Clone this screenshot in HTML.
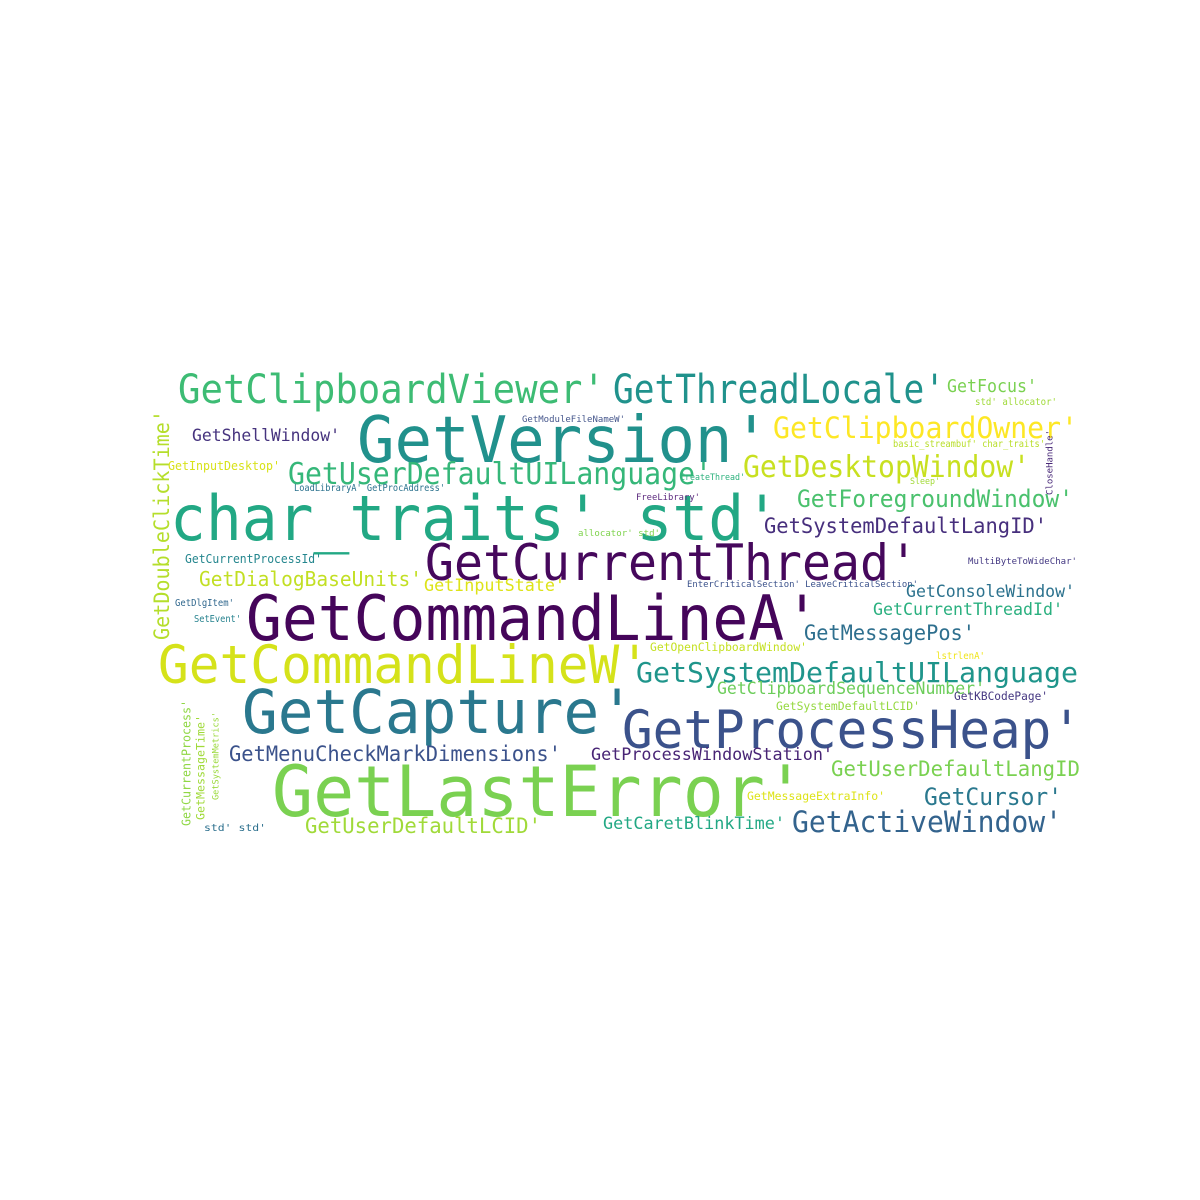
<!DOCTYPE html>
<html><head><meta charset="utf-8"><title>Word cloud</title>
<style>
html,body{margin:0;padding:0;background:#fff;width:1200px;height:1200px;overflow:hidden}
svg text{font-family:"DejaVu Sans Mono","Liberation Mono",monospace}
</style></head>
<body>
<svg id="cloud" width="1200" height="1200" viewBox="0 0 1200 1200" xmlns="http://www.w3.org/2000/svg">
<rect width="1200" height="1200" fill="#ffffff"/>
</svg>
<script>
const words = ["GetClipboardViewer'","GetThreadLocale'","GetFocus'","std' allocator'","GetModuleFileNameW'","GetVersion'","GetClipboardOwner'","GetShellWindow'","GetDoubleClickTime'","GetInputDesktop'","GetUserDefaultUILanguage'","basic_streambuf' char_traits'","GetDesktopWindow'","CloseHandle'","CreateThread'","Sleep'","LoadLibraryA' GetProcAddress'","char_traits' std'","FreeLibrary'","GetForegroundWindow'","GetSystemDefaultLangID'","allocator' std'","GetCurrentThread'","GetCurrentProcessId'","MultiByteToWideChar'","GetDialogBaseUnits'","GetInputState'","EnterCriticalSection' LeaveCriticalSection'","GetConsoleWindow'","GetCommandLineA'","GetDlgItem'","GetCurrentThreadId'","SetEvent'","GetMessagePos'","GetOpenClipboardWindow'","GetCommandLineW'","lstrlenA'","GetSystemDefaultUILanguage","GetClipboardSequenceNumber'","GetKBCodePage'","GetCapture'","GetSystemDefaultLCID'","GetCurrentProcess'","GetMessageTime'","GetSystemMetrics'","GetProcessHeap'","GetMenuCheckMarkDimensions'","GetProcessWindowStation'","GetUserDefaultLangID","GetLastError'","GetMessageExtraInfo'","GetCursor'","std' std'","GetUserDefaultLCID'","GetCaretBlinkTime'","GetActiveWindow'"];
const sizes = [40,40,18,10,9,64,29,17,21,12,30,9.5,30,9,9,9,9.5,62,9,24,21,9,50,12,9,20,17,9,17,62,9.5,17,9.5,21,11.5,53,9.5,28,17,11.5,61,11.5,12,11.5,9,53,21,17,21,70,11.5,24,10,21,17,29];
const colors = ["#3dbc74","#20928c","#7ad151","#a0da39","#46578c","#21918c","#fde725","#46337e","#b5de2b","#d8e219","#35b779","#b8de29","#c8e020","#482878","#2db27d","#a2da37","#2c728e","#22a884","#5c2a7e","#4ac16d","#472f7d","#7fd34e","#46085c","#24868e","#443983","#c2df23","#dde318","#3b528b","#2c728e","#45055a","#31688e","#2ab07f","#26828e","#2e6f8e","#c4e021","#d5e21a","#f0e51d","#1f958b","#6ccd5a","#453781","#2a788e","#95d840","#8fd744","#a0da39","#9bd93c","#3b528b","#3b528b","#482475","#7ad151","#7ad151","#dde318","#2a788e","#2d708e","#a0da39","#22a884","#33638d"];
// layout: [x, baselineY, width, rotated(0/1)]
const layout = [[178,403,427,0],[613,403,332,0],[947,392,90,0],[975,405,82,0],[522,422,103,0],[357,462,413,0],[773,438,305,0],[192,441,148,0],[170,640,230,1],[168,470,112,0],[288,484,424,0],[893,447,152,0],[743,477,287,0],[1053,495,65,1],[680,480,65,0],[910,484,30,0],[294,491,151,0],[170,540,610,0],[636,500,64,0],[797,507,276,0],[764,533,283,0],[578,536,82,0],[425,580,493,0],[185,563,137,0],[968,564,109,0],[199,586,223,0],[424,591,141,0],[687,587,231,0],[906,597,169,0],[246,640,574,0],[175,606,59,0],[873,615,190,0],[194,622,47,0],[804,640,171,0],[650,651,157,0],[158,683,492,0],[936,659,49,0],[636,682,442,0],[717,694,268,0],[954,700,94,0],[242,733,393,0],[776,710,144,0],[191,826,126,1],[205,820,105,1],[219,800,88,1],[622,748,460,0],[229,761,332,0],[591,760,242,0],[831,776,249,0],[272,816,534,0],[747,800,138,0],[924,805,138,0],[204,831,62,0],[305,833,236,0],[603,829,182,0],[792,832,270,0]];
const svg = document.getElementById('cloud');
const NS = 'http://www.w3.org/2000/svg';
words.forEach((w, i) => {
  const [x, y, len, rot] = layout[i];
  const t = document.createElementNS(NS, 'text');
  
  
  t.setAttribute('font-size', sizes[i]);
  t.setAttribute('fill', colors[i]);
  t.setAttribute('textLength', len);
  t.setAttribute('lengthAdjust', 'spacingAndGlyphs');
  if (rot) {
    t.setAttribute('x', 0); t.setAttribute('y', 0);
    t.setAttribute('transform', 'translate(' + (x - sizes[i]*0.05) + ',' + y + ') rotate(-90)');
  } else {
    t.setAttribute('x', x); t.setAttribute('y', y);
  }
  t.textContent = w;
  svg.appendChild(t);
});
</script>
</body></html>
